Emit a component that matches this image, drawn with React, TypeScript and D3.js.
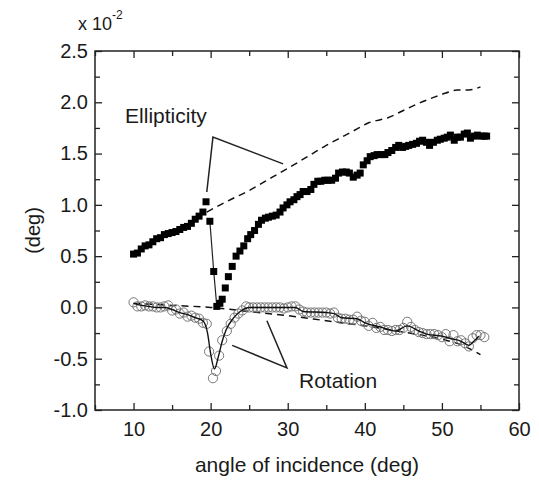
import React, { useEffect, useRef } from "react";
import * as d3 from "d3";

// measured ellipticity (filled squares), [angle, value x1e-2 deg]
const ellipticity: [number, number][] = [
  [10, 0.52], [10.5, 0.53], [11, 0.57], [11.5, 0.6], [12, 0.61], [12.5, 0.64],
  [13, 0.67], [13.5, 0.68], [14, 0.71], [14.5, 0.72], [15, 0.73], [15.5, 0.74],
  [16, 0.76], [16.5, 0.78], [17, 0.79], [17.5, 0.82], [18, 0.86], [18.5, 0.89],
  [19, 0.93], [19.4, 1.03], [19.9, 0.84], [20.4, 0.35], [20.8, 0.01], [21.2, 0.04],
  [21.5, 0.08], [21.9, 0.19], [22.3, 0.3], [22.8, 0.4], [23.3, 0.5], [23.8, 0.55],
  [24.3, 0.6], [24.8, 0.67], [25.2, 0.71], [25.7, 0.75], [26.2, 0.81], [26.6, 0.85],
  [27.1, 0.87], [27.5, 0.88], [28, 0.89], [28.5, 0.9], [29, 0.93], [29.4, 0.97],
  [29.9, 1.0], [30.3, 1.03], [30.8, 1.05], [31.2, 1.08], [31.6, 1.1], [32, 1.13],
  [32.5, 1.13], [33, 1.15], [33.4, 1.2], [33.9, 1.23], [34.3, 1.23], [34.8, 1.24],
  [35.2, 1.24], [35.7, 1.24], [36.2, 1.26], [36.6, 1.31], [37.1, 1.32], [37.6, 1.32],
  [38, 1.31], [38.5, 1.27], [39, 1.29], [39.4, 1.31], [39.8, 1.39], [40.3, 1.43],
  [40.7, 1.47], [41.2, 1.48], [41.6, 1.49], [42.1, 1.49], [42.6, 1.49], [43, 1.51],
  [43.5, 1.53], [44, 1.56], [44.4, 1.58], [44.9, 1.56], [45.3, 1.57], [45.7, 1.58],
  [46.2, 1.59], [46.7, 1.6], [47.1, 1.62], [47.5, 1.63], [48, 1.61], [48.4, 1.58],
  [48.9, 1.61], [49.4, 1.63], [49.8, 1.64], [50.3, 1.65], [50.7, 1.66], [51.1, 1.68],
  [51.6, 1.63], [52, 1.66], [52.4, 1.66], [52.9, 1.69], [53.3, 1.7], [53.7, 1.65],
  [54.2, 1.67], [54.6, 1.68], [55.1, 1.67], [55.5, 1.67], [55.8, 1.67],
];

// thin guide line through the steep ellipticity drop
const ellipticityDrop: [number, number][] = [
  [19.9, 0.84], [20.4, 0.35], [20.8, 0.01], [21.2, 0.04],
];

// calculated ellipticity (dashed)
const ellipticityTheory: [number, number][] = [
  [19.5, 0.93], [22, 1.03], [25, 1.14], [28, 1.27], [31, 1.4], [33, 1.49],
  [35, 1.58], [37, 1.66], [39, 1.74], [40.5, 1.8], [42, 1.83], [43, 1.85],
  [45, 1.92], [47, 1.99], [49, 2.05], [50.5, 2.09], [52, 2.12], [53.5, 2.12], [55, 2.15],
];

// measured rotation (open circles)
const rotation: [number, number][] = [
  [10, 0.05], [10.5, 0.01], [11, 0.01], [11.5, 0.02], [12, 0.01], [12.5, 0.01],
  [13, 0.0], [13.5, 0.0], [14, 0.01], [14.5, 0.02], [15, -0.03], [15.5, -0.02],
  [16, -0.06], [16.5, -0.05], [17, -0.09], [17.5, -0.08], [18, -0.1], [18.5, -0.11],
  [19, -0.15], [19.5, -0.16], [19.8, -0.43], [20.3, -0.69], [20.7, -0.62], [21.1, -0.47],
  [21.5, -0.32], [22.1, -0.23], [22.6, -0.16], [23.1, -0.1], [23.6, -0.06], [24.1, -0.03],
  [24.6, 0.01], [25, 0.0], [25.5, 0.0], [26, 0.0], [26.5, 0.0], [27, 0.0],
  [27.5, 0.0], [28, 0.0], [28.5, 0.0], [29, 0.0], [29.5, -0.01], [30, 0.0],
  [30.5, 0.01], [31, 0.01], [31.5, -0.02], [32, -0.04], [32.5, -0.05], [33, -0.05],
  [33.5, -0.05], [34, -0.05], [34.5, -0.05], [35, -0.05], [35.5, -0.06], [36, -0.05],
  [36.5, -0.1], [37, -0.11], [37.5, -0.11], [38, -0.12], [38.5, -0.12], [39, -0.09],
  [39.5, -0.13], [40, -0.14], [40.5, -0.18], [41, -0.15], [41.5, -0.2], [42, -0.19],
  [42.5, -0.22], [43, -0.22], [43.5, -0.23], [44, -0.22], [44.5, -0.22], [45, -0.2],
  [45.5, -0.14], [46, -0.19], [46.5, -0.22], [47, -0.24], [47.5, -0.25], [48, -0.26],
  [48.5, -0.26], [49, -0.26], [49.5, -0.27], [50, -0.29], [50.5, -0.26], [51, -0.33],
  [51.5, -0.27], [52, -0.33], [52.5, -0.32], [53, -0.35], [53.5, -0.38], [54, -0.3],
  [54.5, -0.27], [55, -0.27], [55.5, -0.29],
];

// smoothed rotation (solid)
const rotationFit: [number, number][] = [
  [10, 0.04], [11, 0.02], [12, 0.01], [13, 0.0], [14, 0.0], [15, -0.02],
  [16, -0.05], [17, -0.07], [18, -0.1], [19, -0.13], [19.6, -0.25], [20, -0.45],
  [20.5, -0.6], [21, -0.48], [21.5, -0.33], [22, -0.22], [23, -0.1], [24, -0.03],
  [25, 0.0], [28, 0.0], [31, 0.0], [31.5, -0.02], [32, -0.04], [35, -0.05],
  [36, -0.06], [37, -0.1], [39, -0.11], [40, -0.15], [42, -0.19], [44, -0.23],
  [45.5, -0.18], [47, -0.23], [48, -0.26], [50, -0.28], [51, -0.3], [52.5, -0.33],
  [53.5, -0.37], [54, -0.34], [54.8, -0.28],
];

// calculated rotation (dashed)
const rotationTheory: [number, number][] = [
  [10, 0.04], [15, 0.02], [20, 0.0], [25, -0.04], [30, -0.08], [35, -0.13],
  [40, -0.18], [45, -0.24], [50, -0.31], [53, -0.38], [55, -0.46],
];

// annotation pointers: [end1, apex, end2] in data units
const ellipticityPointer: [number, number][] = [[19.5, 1.125], [20.3, 1.66], [29.4, 1.4]];
const rotationPointer: [number, number][] = [[22.8, -0.37], [29.9, -0.59], [27.3, -0.13]];

const xTicks = [10, 20, 30, 40, 50, 60];
const yTicks = [-1.0, -0.5, 0.0, 0.5, 1.0, 1.5, 2.0, 2.5];

const FONT = "'Liberation Sans', Arial, Helvetica, sans-serif";

const App: React.FC = () => {
  const svgRef = useRef<SVGSVGElement>(null);

  useEffect(() => {
    if (!svgRef.current) return;
    const svg = d3.select(svgRef.current);
    svg.selectAll("*").remove();

    const margin = { top: 51, right: 20, bottom: 71, left: 95 };
    const W = 539;
    const H = 481;
    const width = W - margin.left - margin.right;
    const height = H - margin.top - margin.bottom;

    const g = svg.append("g").attr("transform", `translate(${margin.left},${margin.top})`);

    const x = d3.scaleLinear().domain([5, 60]).range([0, width]);
    const y = d3.scaleLinear().domain([-1, 2.5]).range([height, 0]);

    const minorX = d3.range(5, 60.01, 5).filter((v) => !xTicks.includes(v));
    const minorY = d3.range(-1, 2.51, 0.25).filter((v) => Math.abs(v * 2 - Math.round(v * 2)) > 0.01);

    const styleAxis = (sel: d3.Selection<SVGGElement, unknown, null, undefined>) => {
      sel.select(".domain").remove();
      sel.selectAll("line").attr("stroke", "#222").attr("stroke-width", 1.3);
      sel.selectAll("text").attr("fill", "#1a1a1a").style("font-family", FONT).style("font-size", "20px");
    };

    // major ticks
    g.append("g")
      .attr("transform", `translate(0,${height})`)
      .call(d3.axisBottom(x).tickValues(xTicks).tickSize(-7).tickPadding(12).tickFormat((d) => `${d}`))
      .call(styleAxis);
    g.append("g")
      .call(d3.axisLeft(y).tickValues(yTicks).tickSize(-7).tickPadding(7).tickFormat((d) => (+d).toFixed(1)))
      .call(styleAxis);
    g.append("g")
      .call(d3.axisTop(x).tickValues(xTicks).tickSize(-7).tickFormat(() => ""))
      .call(styleAxis);
    g.append("g")
      .attr("transform", `translate(${width},0)`)
      .call(d3.axisRight(y).tickValues(yTicks).tickSize(-7).tickFormat(() => ""))
      .call(styleAxis);

    // minor ticks
    g.append("g")
      .attr("transform", `translate(0,${height})`)
      .call(d3.axisBottom(x).tickValues(minorX).tickSize(-5).tickFormat(() => ""))
      .call(styleAxis);
    g.append("g")
      .call(d3.axisTop(x).tickValues(minorX).tickSize(-5).tickFormat(() => ""))
      .call(styleAxis);
    g.append("g")
      .call(d3.axisLeft(y).tickValues(minorY).tickSize(-5).tickFormat(() => ""))
      .call(styleAxis);
    g.append("g")
      .attr("transform", `translate(${width},0)`)
      .call(d3.axisRight(y).tickValues(minorY).tickSize(-5).tickFormat(() => ""))
      .call(styleAxis);

    // frame
    g.append("rect")
      .attr("width", width)
      .attr("height", height)
      .attr("fill", "none")
      .attr("stroke", "#222")
      .attr("stroke-width", 1.5);

    const line = d3
      .line<[number, number]>()
      .x((d) => x(d[0]))
      .y((d) => y(d[1]));

    // dashed theory curves
    [ellipticityTheory, rotationTheory].forEach((data) => {
      g.append("path")
        .datum(data)
        .attr("fill", "none")
        .attr("stroke", "#111")
        .attr("stroke-width", 1.5)
        .attr("stroke-dasharray", "7,5")
        .attr("d", line.curve(d3.curveMonotoneX));
    });

    // annotation pointers + drop guide
    [ellipticityPointer, rotationPointer, ellipticityDrop].forEach((data, i) => {
      g.append("path")
        .datum(data)
        .attr("fill", "none")
        .attr("stroke", "#222")
        .attr("stroke-width", i === 2 ? 1.2 : 1.5)
        .attr("d", line.curve(d3.curveLinear));
    });

    // squares
    const s = 7;
    g.append("g")
      .selectAll("rect")
      .data(ellipticity)
      .enter()
      .append("rect")
      .attr("x", (d) => x(d[0]) - s / 2)
      .attr("y", (d) => y(d[1]) - s / 2)
      .attr("width", s)
      .attr("height", s)
      .attr("fill", "#000");

    // circles
    g.append("g")
      .selectAll("circle")
      .data(rotation)
      .enter()
      .append("circle")
      .attr("cx", (d) => x(d[0]))
      .attr("cy", (d) => y(d[1]))
      .attr("r", 4.6)
      .attr("fill", "none")
      .attr("stroke", "#777")
      .attr("stroke-width", 1);

    // smoothed rotation line
    g.append("path")
      .datum(rotationFit)
      .attr("fill", "none")
      .attr("stroke", "#111")
      .attr("stroke-width", 1.4)
      .attr("d", line.curve(d3.curveMonotoneX));

    // labels
    g.append("text")
      .attr("x", x(8.9))
      .attr("y", y(1.8))
      .style("font-family", FONT)
      .style("font-size", "21px")
      .attr("fill", "#1a1a1a")
      .text("Ellipticity");
    g.append("text")
      .attr("x", x(31.46))
      .attr("y", y(-0.786))
      .style("font-family", FONT)
      .style("font-size", "21px")
      .attr("fill", "#1a1a1a")
      .text("Rotation");

    svg.append("text")
      .attr("x", margin.left + width / 2)
      .attr("y", 472)
      .attr("text-anchor", "middle")
      .style("font-family", FONT)
      .style("font-size", "21px")
      .attr("fill", "#1a1a1a")
      .text("angle of incidence (deg)");

    svg.append("text")
      .attr("transform", `translate(40,${margin.top + height / 2}) rotate(-90)`)
      .attr("text-anchor", "middle")
      .style("font-family", FONT)
      .style("font-size", "20px")
      .attr("fill", "#1a1a1a")
      .text("(deg)");

    const exp = svg.append("text")
      .attr("x", 78)
      .attr("y", 30)
      .style("font-family", FONT)
      .style("font-size", "18px")
      .attr("fill", "#1a1a1a");
    exp.append("tspan").text("x 10");
    exp.append("tspan").attr("dy", -11).style("font-size", "12px").text("-2");
  }, []);

  return (
    <svg
      ref={svgRef}
      width={539}
      height={481}
      style={{ position: "absolute", left: 0, top: 0, background: "#fff" }}
    ></svg>
  );
};

export default App;
